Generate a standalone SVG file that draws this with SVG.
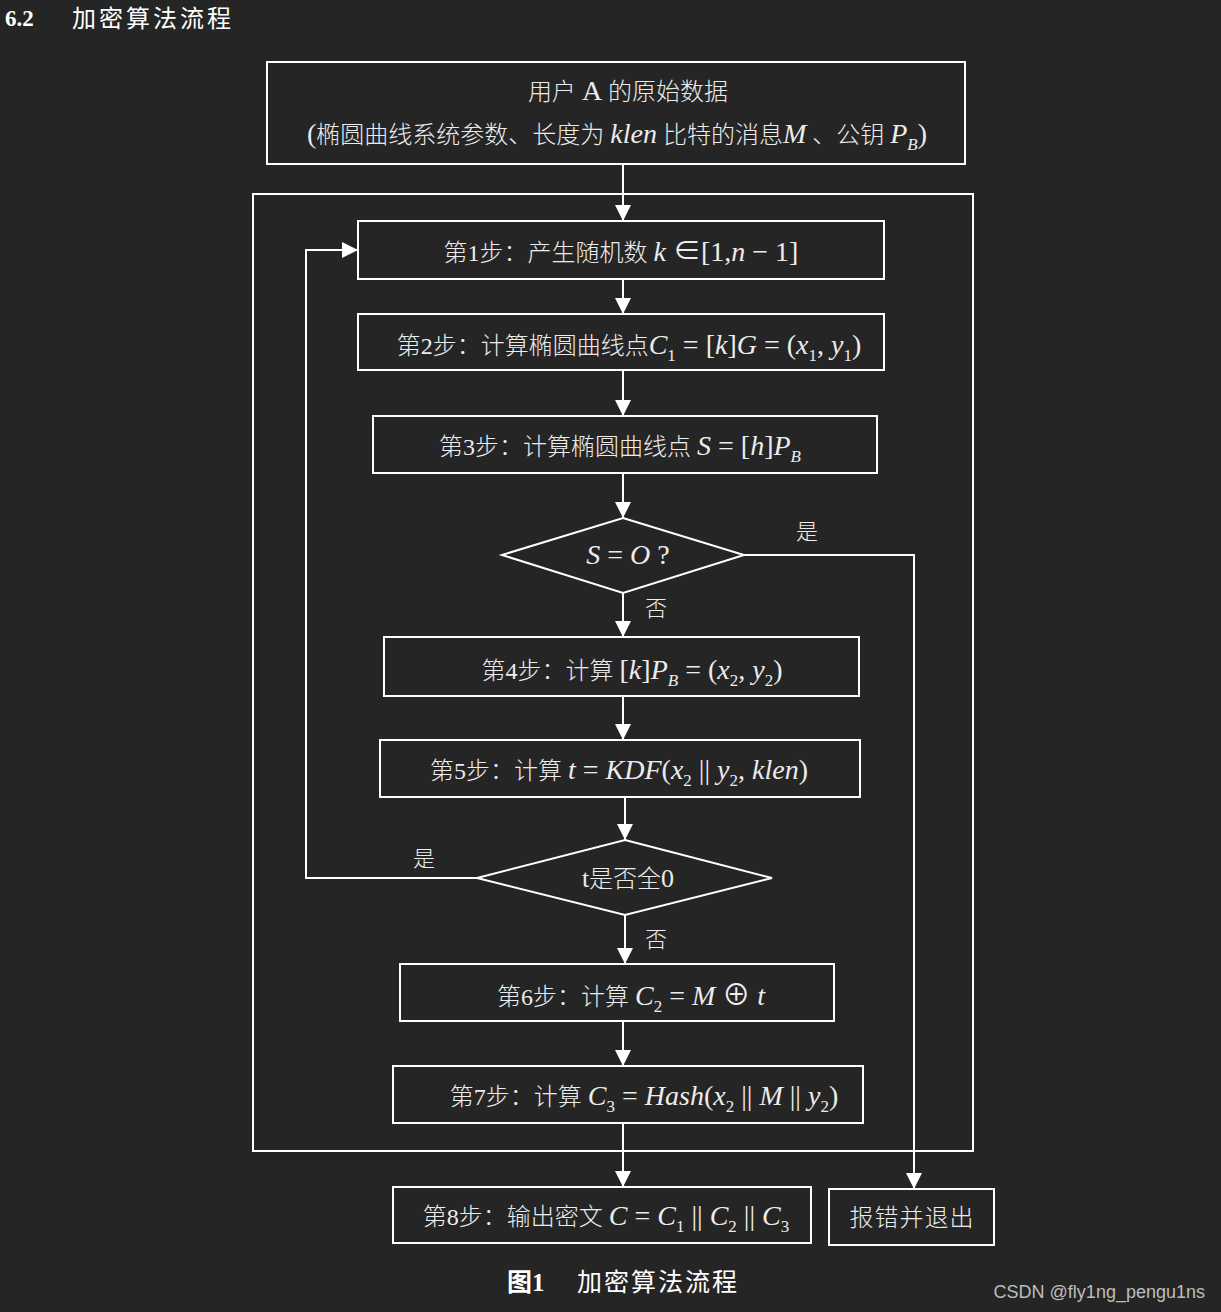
<svg xmlns="http://www.w3.org/2000/svg" width="1221" height="1312" viewBox="0 0 1221 1312">
<defs>
<marker id="arr" viewBox="0 0 16 16" markerWidth="16" markerHeight="16" refX="16" refY="8" orient="auto" markerUnits="userSpaceOnUse">
<path d="M0,0 L16,8 L0,16 z" fill="#ffffff"/>
</marker>
<style>
.bx{fill:none;stroke:#ffffff;stroke-width:2}
.ln{fill:none;stroke:#ffffff;stroke-width:2}
.t{font-family:"Liberation Serif","Noto Sans CJK SC",serif;font-size:24px;font-weight:300;fill:#ececec}
.m{font-size:28px;font-weight:normal}
.i{font-style:italic}
.s{font-size:17px}
.lbl{font-family:"Liberation Serif","Noto Sans CJK SC",serif;font-size:22px;font-weight:300;fill:#ececec}
</style>
</defs>
<rect width="1221" height="1312" fill="#252525"/>

<g id="title">
<text x="5" y="26" font-family="Liberation Serif,serif" font-weight="bold" font-size="23" fill="#ffffff">6.2</text>
<text x="72" y="27" font-family="Noto Sans CJK SC,sans-serif" font-size="24" fill="#ffffff" letter-spacing="3">加密算法流程</text>
</g>

<g id="input">
<rect class="bx" x="267" y="62" width="698" height="102"/>
<text class="t" x="628" y="100" text-anchor="middle">用户 <tspan class="m">A</tspan> 的原始数据</text>
<text class="t" x="617" y="143" text-anchor="middle"><tspan class="m">(</tspan>椭圆曲线系统参数、长度为 <tspan class="m i">klen</tspan> 比特的消息<tspan class="m i">M</tspan> 、公钥 <tspan class="m"><tspan class="i">P</tspan><tspan class="s i" dy="7">B</tspan><tspan dy="-7">)</tspan></tspan></text>
</g>

<g id="outer">
<rect class="bx" x="253" y="194" width="720" height="957"/>
</g>

<g id="step1">
<rect class="bx" x="358" y="221" width="526" height="58"/>
<text class="t" x="621" y="261" text-anchor="middle">第1步：产生随机数 <tspan class="m"><tspan class="i">k</tspan> ∈[1,<tspan class="i">n</tspan> − 1]</tspan></text>
</g>

<g id="step2">
<rect class="bx" x="358" y="314" width="526" height="56"/>
<text class="t" x="629" y="354" text-anchor="middle">第2步：计算椭圆曲线点<tspan class="m"><tspan class="i">C</tspan><tspan class="s" dy="7">1</tspan><tspan dy="-7"> = [</tspan><tspan class="i">k</tspan>]<tspan class="i">G</tspan> = (<tspan class="i">x</tspan><tspan class="s" dy="7">1</tspan><tspan dy="-7">, </tspan><tspan class="i">y</tspan><tspan class="s" dy="7">1</tspan><tspan dy="-7">)</tspan></tspan></text>
</g>

<g id="step3">
<rect class="bx" x="373" y="416" width="504" height="57"/>
<text class="t" x="620" y="455" text-anchor="middle">第3步：计算椭圆曲线点 <tspan class="m"><tspan class="i">S</tspan> = [<tspan class="i">h</tspan>]<tspan class="i">P</tspan><tspan class="s i" dy="7">B</tspan></tspan></text>
</g>

<g id="check1">
<polygon class="bx" points="623,518 744,555 623,593 502,555"/>
<text class="t" x="628" y="564" text-anchor="middle"><tspan class="m"><tspan class="i">S</tspan> = <tspan class="i">O</tspan> ?</tspan></text>
</g>

<g id="step4">
<rect class="bx" x="384" y="637" width="475" height="59"/>
<text class="t" x="632" y="679" text-anchor="middle">第4步：计算 <tspan class="m">[<tspan class="i">k</tspan>]<tspan class="i">P</tspan><tspan class="s i" dy="7">B</tspan><tspan dy="-7"> = (</tspan><tspan class="i">x</tspan><tspan class="s" dy="7">2</tspan><tspan dy="-7">, </tspan><tspan class="i">y</tspan><tspan class="s" dy="7">2</tspan><tspan dy="-7">)</tspan></tspan></text>
</g>

<g id="step5">
<rect class="bx" x="380" y="740" width="480" height="57"/>
<text class="t" x="619" y="779" text-anchor="middle">第5步：计算 <tspan class="m"><tspan class="i">t</tspan> = <tspan class="i">KDF</tspan>(<tspan class="i">x</tspan><tspan class="s" dy="7">2</tspan><tspan dy="-7"> || </tspan><tspan class="i">y</tspan><tspan class="s" dy="7">2</tspan><tspan dy="-7">, </tspan><tspan class="i">klen</tspan>)</tspan></text>
</g>

<g id="check2">
<polygon class="bx" points="625,840 772,878 625,915 477,878"/>
<text class="t" x="628" y="887" text-anchor="middle"><tspan class="m" style="font-size:26px">t</tspan>是否全<tspan class="m" style="font-size:26px">0</tspan></text>
</g>

<g id="step6">
<rect class="bx" x="400" y="964" width="434" height="57"/>
<text class="t" x="631" y="1005" text-anchor="middle">第6步：计算 <tspan class="m"><tspan class="i">C</tspan><tspan class="s" dy="7">2</tspan><tspan dy="-7"> = </tspan><tspan class="i">M</tspan> ⊕ <tspan class="i">t</tspan></tspan></text>
</g>

<g id="step7">
<rect class="bx" x="393" y="1066" width="470" height="57"/>
<text class="t" x="644" y="1105" text-anchor="middle">第7步：计算 <tspan class="m"><tspan class="i">C</tspan><tspan class="s" dy="7">3</tspan><tspan dy="-7"> = </tspan><tspan class="i">Hash</tspan>(<tspan class="i">x</tspan><tspan class="s" dy="7">2</tspan><tspan dy="-7"> || </tspan><tspan class="i">M</tspan> || <tspan class="i">y</tspan><tspan class="s" dy="7">2</tspan><tspan dy="-7">)</tspan></tspan></text>
</g>

<g id="step8">
<rect class="bx" x="393" y="1187" width="418" height="56"/>
<text class="t" x="606" y="1225" text-anchor="middle">第8步：输出密文 <tspan class="m"><tspan class="i">C</tspan> = <tspan class="i">C</tspan><tspan class="s" dy="7">1</tspan><tspan dy="-7"> || </tspan><tspan class="i">C</tspan><tspan class="s" dy="7">2</tspan><tspan dy="-7"> || </tspan><tspan class="i">C</tspan><tspan class="s" dy="7">3</tspan></tspan></text>
</g>

<g id="error">
<rect class="bx" x="829" y="1189" width="165" height="56"/>
<text class="t" x="912" y="1226" text-anchor="middle" letter-spacing="1">报错并退出</text>
</g>

<g id="connectors">
<line class="ln" x1="623" y1="164" x2="623" y2="221" marker-end="url(#arr)"/>
<line class="ln" x1="623" y1="279" x2="623" y2="314" marker-end="url(#arr)"/>
<line class="ln" x1="623" y1="370" x2="623" y2="416" marker-end="url(#arr)"/>
<line class="ln" x1="623" y1="473" x2="623" y2="518" marker-end="url(#arr)"/>
<line class="ln" x1="623" y1="593" x2="623" y2="637" marker-end="url(#arr)"/>
<line class="ln" x1="623" y1="696" x2="623" y2="740" marker-end="url(#arr)"/>
<line class="ln" x1="625" y1="797" x2="625" y2="840" marker-end="url(#arr)"/>
<line class="ln" x1="625" y1="915" x2="625" y2="964" marker-end="url(#arr)"/>
<line class="ln" x1="623" y1="1021" x2="623" y2="1066" marker-end="url(#arr)"/>
<line class="ln" x1="623" y1="1123" x2="623" y2="1187" marker-end="url(#arr)"/>
<polyline class="ln" points="477,878 306,878 306,250 358,250" marker-end="url(#arr)"/>
<polyline class="ln" points="744,555 914,555 914,1189" marker-end="url(#arr)"/>
<text class="lbl" x="807" y="539" text-anchor="middle">是</text>
<text class="lbl" x="656" y="616" text-anchor="middle">否</text>
<text class="lbl" x="424" y="866" text-anchor="middle">是</text>
<text class="lbl" x="656" y="947" text-anchor="middle">否</text>
</g>

<g id="caption">
<text x="507" y="1291" font-family="Liberation Serif,Noto Sans CJK SC,serif" font-weight="bold" font-size="25" fill="#ffffff">图1</text>
<text x="577" y="1291" font-family="Noto Sans CJK SC,sans-serif" font-size="25" fill="#ffffff" letter-spacing="2">加密算法流程</text>
<text x="1205" y="1298" text-anchor="end" font-family="Liberation Sans,sans-serif" font-size="18" fill="#bdbdbd">CSDN @fly1ng_pengu1ns</text>
</g>
</svg>
